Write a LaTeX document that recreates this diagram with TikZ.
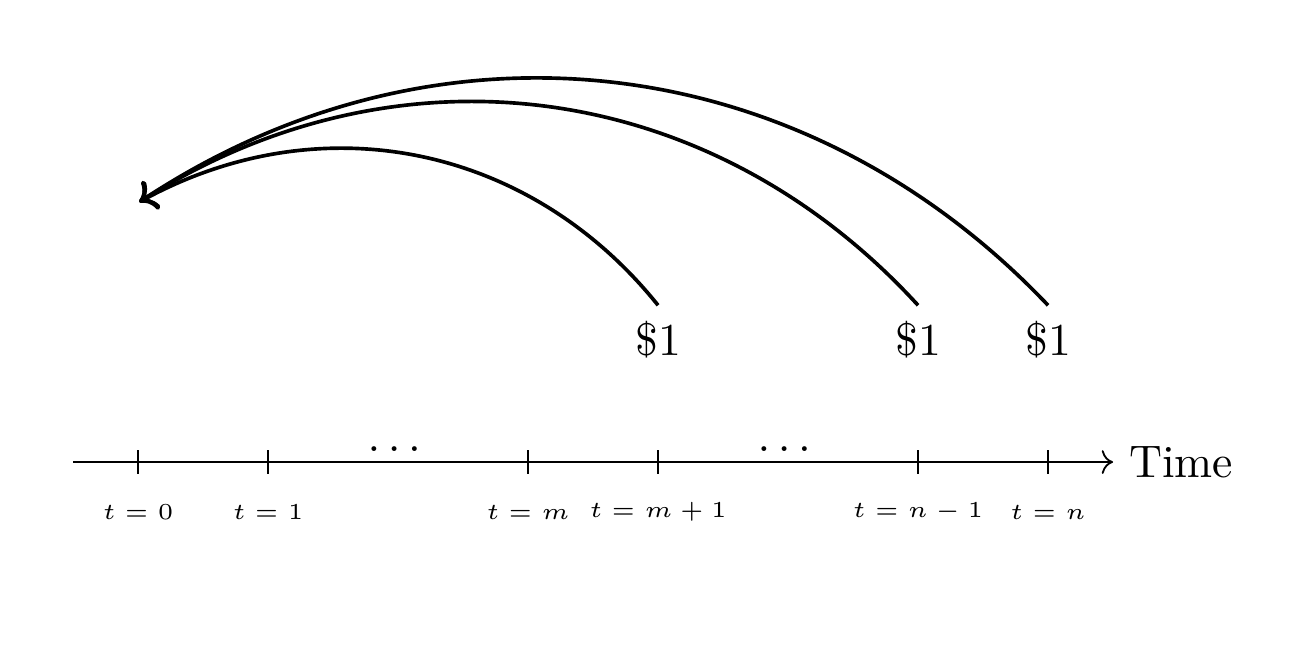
\documentclass[tikz,border=0pt]{standalone}
\usepackage{amsmath}
\usepackage{amssymb}
\usepackage{tikz}
\usetikzlibrary{arrows.meta,positioning,calc}

\begin{document}
\begin{tikzpicture}[ticklabel/.style={font=\tiny}, flow/.style={thick, ->}]
  \useasboundingbox (-1.062,-1.492) rectangle (9.015,3.554);
  \draw[->] (-0.5,0) -- (7.5,0) node[right] (time) {Time};
  \foreach \x/\lab/\nm in {0/0/t0, 1/1/t1, 3/m/tm, 4/m+1/tmnext, 6/n-1/tnprev, 7/n/tn} {
    \draw (\x,0.09) -- (\x,-0.09);
    \node[ticklabel] (\nm) at (\x,-0.385) {$t=\lab$};
  }
  \node[above] (dotsa) at (2,-0.04) {$\dots$};
  \node[above] (dotsb) at (5,-0.04) {$\dots$};
  \coordinate (pv) at (0.01,2.0);
  \foreach \x/\nm in {4/paym, 6/payn1, 7/payn} {
    \node (\nm) at (\x,0.94) {\$1};
  }
  \draw[flow] (paym.north) to[bend right=40] (pv);
  \draw[flow] (payn1.north) to[bend right=40] (pv);
  \draw[flow] (payn.north) to[bend right=40] (pv);
\end{tikzpicture}
\end{document}
